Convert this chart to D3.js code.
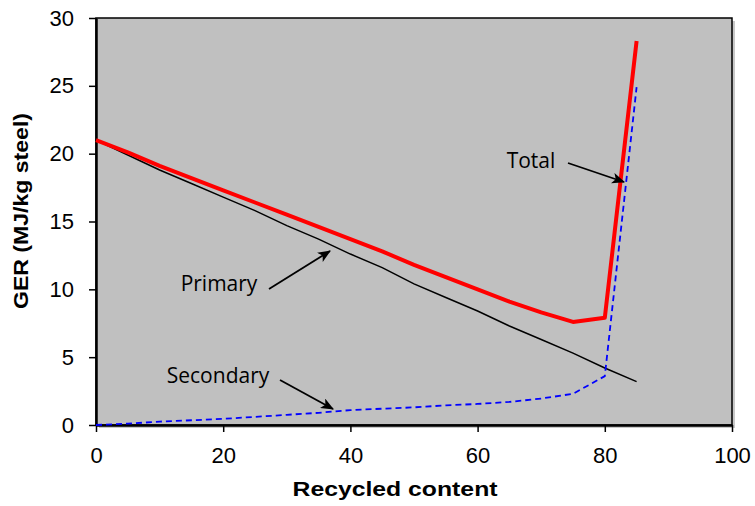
<!DOCTYPE html>
<html>
<head>
<meta charset="utf-8">
<script src="https://cdn.jsdelivr.net/npm/d3@7"></script>
<style>
  body { margin: 0; background: #fff; }
  svg { display: block; }
</style>
</head>
<body>
<div id="chart"></div>
<script>
// data
var recycled  = [0, 5, 10, 15, 20, 25, 30, 35, 40, 45, 50, 55, 60, 65, 70, 75, 80, 85];
var total     = [21.0, 20.1, 19.1, 18.2, 17.3, 16.4, 15.5, 14.6, 13.7, 12.8, 11.8, 10.9, 10.0, 9.1, 8.3, 7.6, 7.9, 28.3];
var primary   = [21.0, 19.9, 18.8, 17.8, 16.8, 15.8, 14.7, 13.7, 12.6, 11.6, 10.4, 9.4, 8.4, 7.3, 6.3, 5.3, 4.2, 3.2];
var secondary = [0, 0.1, 0.25, 0.35, 0.45, 0.6, 0.75, 0.9, 1.1, 1.2, 1.3, 1.45, 1.55, 1.7, 1.95, 2.3, 3.6, 24.9];
var xTicks = [0, 20, 40, 60, 80, 100];
var yTicks = [0, 5, 10, 15, 20, 25, 30];

var W = 755, H = 506;
var margin = {top: 18, right: 23, bottom: 81, left: 96},
    width = W - margin.left - margin.right,
    height = H - margin.top - margin.bottom;

var svg = d3.select("#chart")
  .append("svg")
    .attr("width", W)
    .attr("height", H);

var defs = svg.append("defs");
defs.append("marker")
    .attr("id", "arrow")
    .attr("viewBox", "0 0 12 10")
    .attr("refX", 11)
    .attr("refY", 5)
    .attr("markerWidth", 13)
    .attr("markerHeight", 11)
    .attr("markerUnits", "userSpaceOnUse")
    .attr("orient", "auto")
  .append("path")
    .attr("d", "M0,0 L12,5 L0,10 L3,5 Z")
    .attr("fill", "#000");

var g = svg.append("g")
    .attr("transform", "translate(" + margin.left + "," + margin.top + ")");

var x = d3.scaleLinear().domain([0, 100]).range([0, width]);
var y = d3.scaleLinear().domain([0, 30]).range([height, 0]);

// plot area with little shadow
g.append("rect")
    .attr("x", 3).attr("y", 3)
    .attr("width", width).attr("height", height)
    .attr("fill", "#c8c8c8");
g.append("rect")
    .attr("width", width).attr("height", height)
    .attr("fill", "#c0c0c0")
    .attr("stroke", "#000")
    .attr("stroke-width", 1.5);

// axes
var xAxis = g.append("g")
    .attr("transform", "translate(0," + height + ")")
    .call(d3.axisBottom(x).tickValues(xTicks).tickSize(7).tickPadding(15).tickSizeOuter(0));
var yAxis = g.append("g")
    .call(d3.axisLeft(y).tickValues(yTicks).tickSize(7).tickPadding(15).tickSizeOuter(0));
[xAxis, yAxis].forEach(function(a) {
  a.select(".domain").attr("stroke", "#000").attr("stroke-width", 2.5);
  a.selectAll(".tick line").attr("stroke", "#000").attr("stroke-width", 1.5);
  a.selectAll(".tick text")
    .attr("fill", "#000")
    .style("font-family", "'Liberation Sans', Arial, sans-serif")
    .style("font-size", "22px");
});

// axis titles
svg.append("text")
    .attr("x", margin.left + width / 2 - 19)
    .attr("y", 496)
    .attr("text-anchor", "middle")
    .attr("textLength", 205)
    .attr("lengthAdjust", "spacingAndGlyphs")
    .style("font-family", "'Liberation Sans', Arial, sans-serif")
    .style("font-weight", "bold")
    .style("font-size", "21px")
    .text("Recycled content");
svg.append("text")
    .attr("transform", "translate(28,211) rotate(-90)")
    .attr("text-anchor", "middle")
    .attr("textLength", 196)
    .attr("lengthAdjust", "spacingAndGlyphs")
    .style("font-family", "'Liberation Sans', Arial, sans-serif")
    .style("font-weight", "bold")
    .style("font-size", "21px")
    .text("GER (MJ/kg steel)");

// lines
var line = function(vals) {
  return d3.line()
    .x(function(d, i) { return x(recycled[i]); })
    .y(function(d) { return y(d); })(vals);
};
g.append("path")
    .attr("d", line(primary))
    .attr("fill", "none")
    .attr("stroke", "#000")
    .attr("stroke-width", 1.5);
g.append("path")
    .attr("d", line(secondary))
    .attr("fill", "none")
    .attr("stroke", "#0000ff")
    .attr("stroke-width", 1.8)
    .attr("stroke-dasharray", "6,4");
g.append("path")
    .attr("d", line(total))
    .attr("fill", "none")
    .attr("stroke", "#ff0000")
    .attr("stroke-width", 4)
    .attr("stroke-linejoin", "round");

// annotations
var notes = [
  {label: "Total", tx: 531, ty: 168, x1: 568, y1: 163, x2: 624, y2: 182},
  {label: "Primary", tx: 219, ty: 291, x1: 269, y1: 289, x2: 330, y2: 251},
  {label: "Secondary", tx: 218, ty: 383, x1: 280, y1: 380, x2: 333, y2: 409}
];
notes.forEach(function(n) {
  svg.append("text")
      .attr("x", n.tx).attr("y", n.ty)
      .attr("text-anchor", "middle")
      .style("font-family", "'Open Sans', 'Noto Sans', sans-serif")
      .style("font-size", "21px")
      .attr("fill", "#000")
      .text(n.label);
  svg.append("line")
      .attr("x1", n.x1).attr("y1", n.y1)
      .attr("x2", n.x2).attr("y2", n.y2)
      .attr("stroke", "#000")
      .attr("stroke-width", 1.8)
      .attr("marker-end", "url(#arrow)");
});
</script>
</body>
</html>
